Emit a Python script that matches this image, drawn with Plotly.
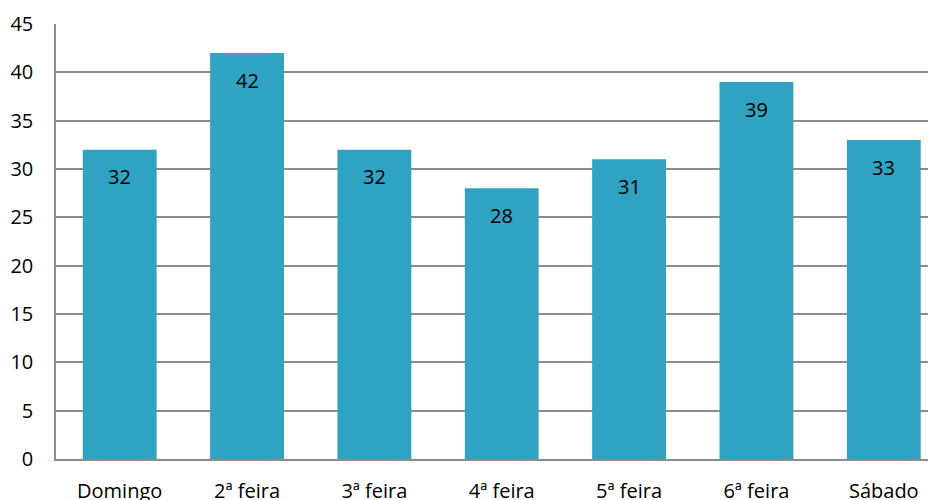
import plotly.graph_objects as go

# Days of week and counts
days = ["Domingo", "2ª feira", "3ª feira", "4ª feira", "5ª feira", "6ª feira", "Sábado"]
counts = [32, 42, 32, 28, 31, 39, 33]
y_ticks = [0, 5, 10, 15, 20, 25, 30, 35, 40, 45]

FONT = "Open Sans"

fig = go.Figure()

fig.add_trace(
    go.Bar(
        x=days,
        y=counts,
        width=0.58,
        marker=dict(color="#30a2c2", line=dict(width=0)),
        showlegend=False,
        hoverinfo="x+y",
    )
)

# value labels just inside the top of each bar
for d, c in zip(days, counts):
    fig.add_annotation(
        x=d, y=c, text=str(c),
        showarrow=False, yshift=-27,
        font=dict(family=FONT, size=20, color="#000000"),
    )

# page body adds an 8px offset, so size/margins account for it
fig.update_layout(
    width=928,
    height=492,
    margin=dict(l=48, r=0, t=16, b=41),
    paper_bgcolor="white",
    plot_bgcolor="white",
    font=dict(family=FONT, size=20, color="#000000"),
)

# the original plot area runs a little past the right edge of the image
fig.update_xaxes(
    automargin=False,
    range=[-0.5, 6.41],
    showgrid=False,
    showline=True, linecolor="#8c8c8c", linewidth=1.5,
    ticks="",
    ticklabelstandoff=13,
    tickfont=dict(family=FONT, size=20),
)
fig.update_yaxes(
    automargin=False,
    range=[0, 45],
    tickvals=y_ticks,
    showgrid=True, gridcolor="#8c8c8c", gridwidth=1.5,
    showline=True, linecolor="#8c8c8c", linewidth=1.5,
    zeroline=False,
    ticks="",
    ticklabelstandoff=17,
    tickfont=dict(family=FONT, size=20),
)

fig.write_html("out.html")
